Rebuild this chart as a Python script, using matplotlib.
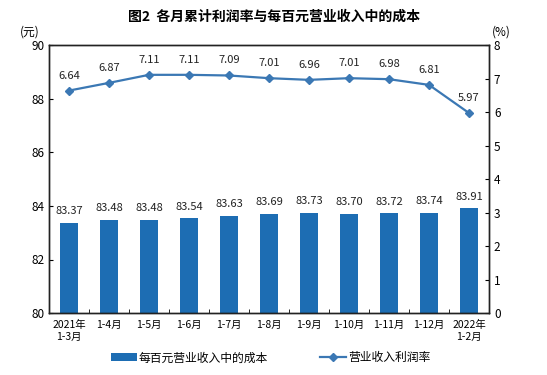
import matplotlib

matplotlib.use("Agg")

import matplotlib.pyplot as plt
import numpy as np

plt.rcParams["font.family"] = ["Noto Sans CJK SC", "DejaVu Sans"]

months = ["2021年\n1-3月", "1-4月", "1-5月", "1-6月", "1-7月", "1-8月",
          "1-9月", "1-10月", "1-11月", "1-12月", "2022年\n1-2月"]
cost_per_100 = [83.37, 83.48, 83.48, 83.54, 83.63, 83.69, 83.73, 83.70, 83.72, 83.74, 83.91]
profit_rate = [6.64, 6.87, 7.11, 7.11, 7.09, 7.01, 6.96, 7.01, 6.98, 6.81, 5.97]

bar_color = "#1d6db3"
line_color = "#3b78b4"

fig = plt.figure(figsize=(5.47, 3.75), dpi=100)
ax = fig.add_axes([0.0896, 0.165, 0.8044, 0.715])
ax2 = ax.twinx()

x = np.arange(len(months))
ax.bar(x, np.array(cost_per_100) - 80, bottom=80, width=0.45, color=bar_color,
       label="每百元营业收入中的成本", zorder=2)
for xi, v in zip(x, cost_per_100):
    ax.text(xi, v + 0.25, f"{v:.2f}", ha="center", va="bottom", fontsize=8, color="#222222")

ax2.plot(x, profit_rate, color=line_color, marker="D", markersize=4, linewidth=1.6,
         label="营业收入利润率", zorder=3)
for xi, v in zip(x, profit_rate):
    ax2.text(xi, v + 0.3, f"{v:.2f}", ha="center", va="bottom", fontsize=8, color="#222222")

ax.set_xlim(-0.5, len(months) - 0.5)
ax.set_ylim(80, 90)
ax.set_yticks(np.arange(80, 91, 2))
ax2.set_ylim(0, 8)
ax2.set_yticks(np.arange(0, 9, 1))

ax.set_xticks(x)
ax.set_xticklabels(months, fontsize=7.5)
ax.tick_params(axis="x", length=0, pad=5)
ax.set_xticks(np.arange(-0.5, len(months), 1), minor=True)
ax.tick_params(axis="x", which="minor", direction="in", length=3)
ax.tick_params(axis="y", direction="in", length=3, labelsize=8.5)
ax2.tick_params(axis="y", direction="in", length=3, labelsize=8.5)

for a in (ax, ax2):
    for s in a.spines.values():
        s.set_linewidth(1.0)
        s.set_color("#222222")

ax.text(-0.043, 1.05, "(元)", transform=ax.transAxes, fontsize=8.5, ha="center", va="center")
ax2.text(1.027, 1.05, "(%)", transform=ax2.transAxes, fontsize=8.5, ha="center", va="center")
fig.text(0.5, 0.945, "图2  各月累计利润率与每百元营业收入中的成本", ha="center",
         fontsize=10, fontweight="bold")

h1, l1 = ax.get_legend_handles_labels()
h2, l2 = ax2.get_legend_handles_labels()
fig.legend(h1 + h2, l1 + l2, loc="lower center", bbox_to_anchor=(0.495, 0.0), ncol=2,
           frameon=False, fontsize=8.5, columnspacing=4.4, handlelength=2.2,
           handletextpad=0.2)

fig.savefig("out.png", dpi=100)
